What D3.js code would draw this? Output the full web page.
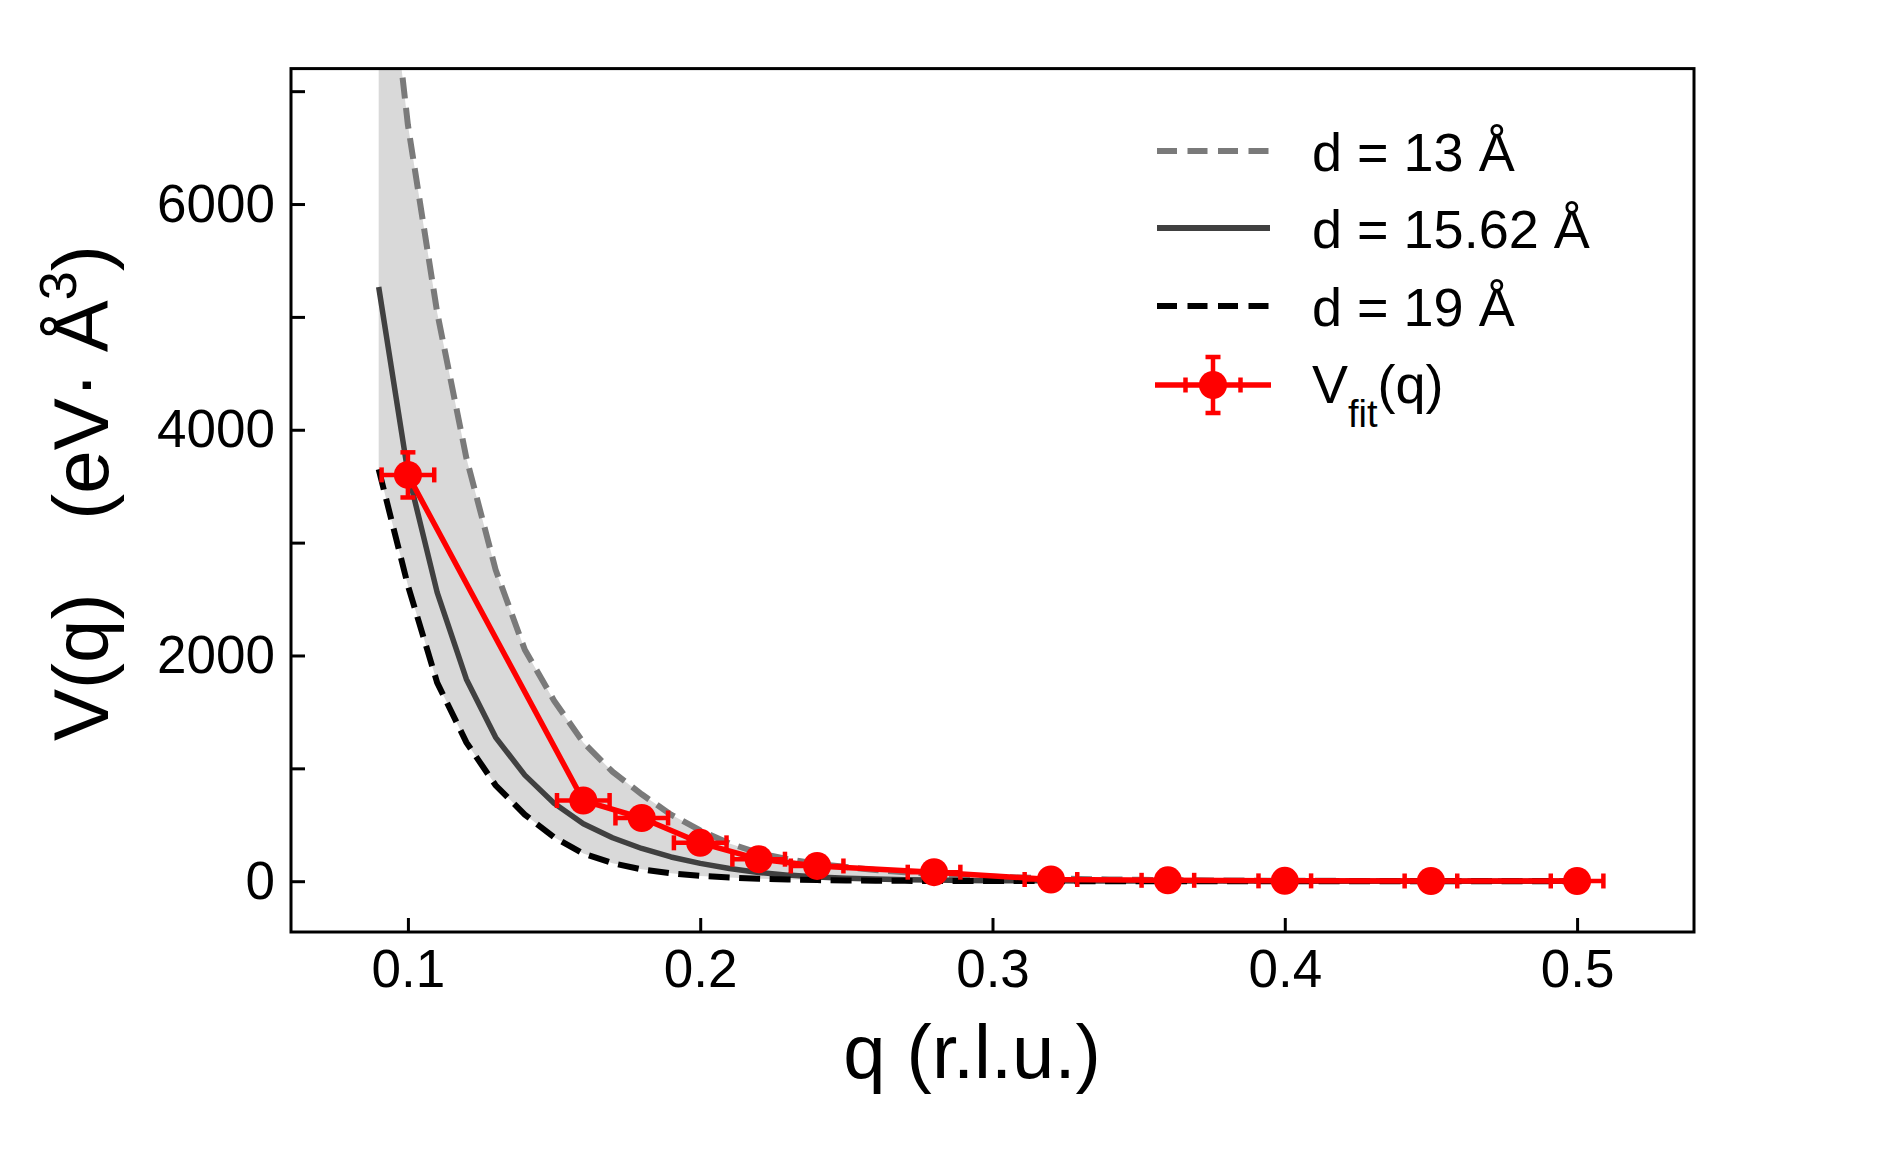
<!DOCTYPE html>
<html>
<head>
<meta charset="utf-8">
<script src="https://cdn.jsdelivr.net/npm/d3@7"></script>
<style>
  html, body { margin: 0; padding: 0; background: #fff; }
  svg { display: block; font-family: "Liberation Sans", Arial, sans-serif; }
</style>
</head>
<body>
<svg id="chart" width="1886" height="1161"></svg>
<script>
// ---------------- data ----------------
const qCurve = [0.09,0.10,0.11,0.12,0.13,0.14,0.15,0.16,0.17,0.18,0.19,0.20,0.21,0.22,0.23,0.24,0.25,0.26,0.27,0.28,0.29,0.30,
                0.31,0.32,0.33,0.34,0.35,0.36,0.37,0.38,0.39,0.40,0.41,0.42,0.43,0.44,0.45,0.46,0.47,0.48,0.49,0.50];
const vD13 = [9000,6700,5040,3750,2760,2050,1600,1230,970,770,590,450,335,250,195,155,125,100,80,63,50,40,
              32,25,20,16,12,10,8,6,5,4,3,3,2,2,2,1,1,1,1,1];
const vD1562 = [5265,3620,2560,1790,1275,940,690,510,385,290,215,158,113,78,54,38,27,19,14,10,7,5,
                4,3,2,2,1,1,1,1,1,0,0,0,0,0,0,0,0,0,0,0];
const vD19 = [3650,2620,1760,1230,850,590,390,245,160,105,70,47,33,22,15,10,7,5,3,2,2,1,
              1,1,0,0,0,0,0,0,0,0,0,0,0,0,0,0,0,0,0,0];

const qFit   = [0.10,0.16,0.18,0.20,0.22,0.24,0.28,0.32,0.36,0.40,0.45,0.50];
const vFit   = [3600,715,560,340,195,135,80,15,8,3,2,2];
const qErr   = [0.009,0.009,0.009,0.009,0.009,0.009,0.009,0.009,0.009,0.009,0.009,0.009];
const vErr   = [200,40,30,25,15,10,8,5,5,5,5,5];

const xTicks = [0.1,0.2,0.3,0.4,0.5];
const yTicks = [0,1000,2000,3000,4000,5000,6000,7000];
const yTickLabels = [0,2000,4000,6000];

const legendLabels = ["d = 13 Å", "d = 15.62 Å", "d = 19 Å"];

// ---------------- layout ----------------
const svg = d3.select("#chart");
const L = 291, R = 1694, T = 68.6, B = 932;
const x = d3.scaleLinear().domain([0.06, 0.54]).range([L, R]);
const y = d3.scaleLinear().domain([-450, 7200]).range([B, T]);

svg.append("defs").append("clipPath").attr("id", "plotclip")
  .append("rect").attr("x", L).attr("y", T).attr("width", R - L).attr("height", B - T);

const plot = svg.append("g").attr("clip-path", "url(#plotclip)");

const curveRows = qCurve.map((q, i) => ({q, a: vD13[i], b: vD1562[i], c: vD19[i]}));

// shaded band between d=19 and d=13
plot.append("path")
  .datum(curveRows)
  .attr("fill", "#d9d9d9")
  .attr("d", d3.area().x(d => x(d.q)).y0(d => y(d.c)).y1(d => y(d.a)));

const lineOf = key => d3.line().x(d => x(d.q)).y(d => y(d[key]));

plot.append("path").datum(curveRows)
  .attr("fill", "none").attr("stroke", "#7a7a7a").attr("stroke-width", 6)
  .attr("stroke-dasharray", "21,9.5").attr("d", lineOf("a"));
plot.append("path").datum(curveRows)
  .attr("fill", "none").attr("stroke", "#404040").attr("stroke-width", 5.5)
  .attr("stroke-linejoin", "round").attr("d", lineOf("b"));
plot.append("path").datum(curveRows)
  .attr("fill", "none").attr("stroke", "#000").attr("stroke-width", 6)
  .attr("stroke-dasharray", "21,9.5").attr("d", lineOf("c"));

// fit data
const fitRows = qFit.map((q, i) => ({q, v: vFit[i], dq: qErr[i], dv: vErr[i]}));
const red = "#ff0000";
plot.append("path").datum(fitRows)
  .attr("fill", "none").attr("stroke", red).attr("stroke-width", 5.5)
  .attr("stroke-linejoin", "round")
  .attr("d", d3.line().x(d => x(d.q)).y(d => y(d.v)));

const eb = plot.append("g").attr("stroke", red).attr("stroke-width", 4.5).attr("fill", "none");
const cap = 7.5;
fitRows.forEach(d => {
  const cx = x(d.q), cy = y(d.v);
  const x0 = x(d.q - d.dq), x1 = x(d.q + d.dq);
  const y0 = y(d.v - d.dv), y1 = y(d.v + d.dv);
  eb.append("line").attr("x1", x0).attr("x2", x1).attr("y1", cy).attr("y2", cy);
  eb.append("line").attr("x1", x0).attr("x2", x0).attr("y1", cy - cap).attr("y2", cy + cap);
  eb.append("line").attr("x1", x1).attr("x2", x1).attr("y1", cy - cap).attr("y2", cy + cap);
  eb.append("line").attr("x1", cx).attr("x2", cx).attr("y1", y0).attr("y2", y1);
  eb.append("line").attr("x1", cx - cap).attr("x2", cx + cap).attr("y1", y0).attr("y2", y0);
  eb.append("line").attr("x1", cx - cap).attr("x2", cx + cap).attr("y1", y1).attr("y2", y1);
});
plot.append("g").selectAll("circle").data(fitRows).join("circle")
  .attr("cx", d => x(d.q)).attr("cy", d => y(d.v)).attr("r", 14).attr("fill", red);

// ---------------- axes ----------------
const tickLen = 14;
const xAxis = svg.append("g").attr("transform", `translate(0,${B})`)
  .call(d3.axisBottom(x).tickValues(xTicks).tickSizeInner(-tickLen).tickSizeOuter(0).tickPadding(17)
        .tickFormat(d3.format(".1f")));
const yAxis = svg.append("g").attr("transform", `translate(${L},0)`)
  .call(d3.axisLeft(y).tickValues(yTicks).tickSizeInner(-tickLen).tickSizeOuter(0).tickPadding(16)
        .tickFormat(d => yTickLabels.includes(d) ? d3.format("d")(d) : ""));
[xAxis, yAxis].forEach(a => {
  a.select(".domain").remove();
  a.selectAll(".tick line").attr("stroke", "#000").attr("stroke-width", 3);
  a.selectAll(".tick text").attr("fill", "#000").attr("font-size", 53)
    .attr("font-family", "'Liberation Sans', Arial, sans-serif");
});
// frame
svg.append("rect").attr("x", L).attr("y", T).attr("width", R - L).attr("height", B - T)
  .attr("fill", "none").attr("stroke", "#000").attr("stroke-width", 3);

// axis labels
svg.append("text").attr("x", 972).attr("y", 1078).attr("text-anchor", "middle")
  .attr("font-size", 76).attr("fill", "#000").text("q (r.l.u.)");

const yl = svg.append("text").attr("transform", "translate(108,741) rotate(-90)")
  .attr("font-size", 78).attr("fill", "#000");
yl.append("tspan").text("V(q)");
yl.append("tspan").attr("dx", 74).text("(eV·");
yl.append("tspan").attr("dx", 20).text("Å");
yl.append("tspan").attr("font-size", 52).attr("dy", -32).text("3");
yl.append("tspan").attr("dy", 32).text(")");

// ---------------- legend ----------------
const lg = svg.append("g");
const hx0 = 1157, hx1 = 1270, tx = 1312;
const rowsY = [151, 228, 306, 385];
const styles = [
  {stroke: "#7a7a7a", dash: "20,10.5", w: 6},
  {stroke: "#404040", dash: null, w: 6},
  {stroke: "#000", dash: "20,10.5", w: 6}
];
legendLabels.forEach((lab, i) => {
  const s = styles[i];
  const ln = lg.append("line").attr("x1", hx0).attr("x2", hx1).attr("y1", rowsY[i]).attr("y2", rowsY[i])
    .attr("stroke", s.stroke).attr("stroke-width", s.w);
  if (s.dash) ln.attr("stroke-dasharray", s.dash);
  lg.append("text").attr("x", tx).attr("y", rowsY[i] + 20).attr("font-size", 54).attr("fill", "#000").text(lab);
});
// fit legend entry
{
  const yy = rowsY[3], cx = (hx0 + hx1) / 2 - 0.5;
  lg.append("line").attr("x1", hx0 - 2).attr("x2", hx1 + 1).attr("y1", yy).attr("y2", yy)
    .attr("stroke", red).attr("stroke-width", 5.5);
  const g = lg.append("g").attr("stroke", red).attr("stroke-width", 4.5);
  g.append("line").attr("x1", cx - 27.5).attr("x2", cx - 27.5).attr("y1", yy - cap).attr("y2", yy + cap);
  g.append("line").attr("x1", cx + 27.5).attr("x2", cx + 27.5).attr("y1", yy - cap).attr("y2", yy + cap);
  g.append("line").attr("x1", cx).attr("x2", cx).attr("y1", yy - 28).attr("y2", yy + 28);
  g.append("line").attr("x1", cx - cap).attr("x2", cx + cap).attr("y1", yy - 28).attr("y2", yy - 28);
  g.append("line").attr("x1", cx - cap).attr("x2", cx + cap).attr("y1", yy + 28).attr("y2", yy + 28);
  lg.append("circle").attr("cx", cx).attr("cy", yy).attr("r", 14).attr("fill", red);
  const t = lg.append("text").attr("x", tx).attr("y", 403).attr("font-size", 54).attr("fill", "#000");
  t.append("tspan").text("V");
  t.append("tspan").attr("font-size", 38).attr("dy", 24).text("fit");
  t.append("tspan").attr("dy", -24).text("(q)");
}
</script>
</body>
</html>
